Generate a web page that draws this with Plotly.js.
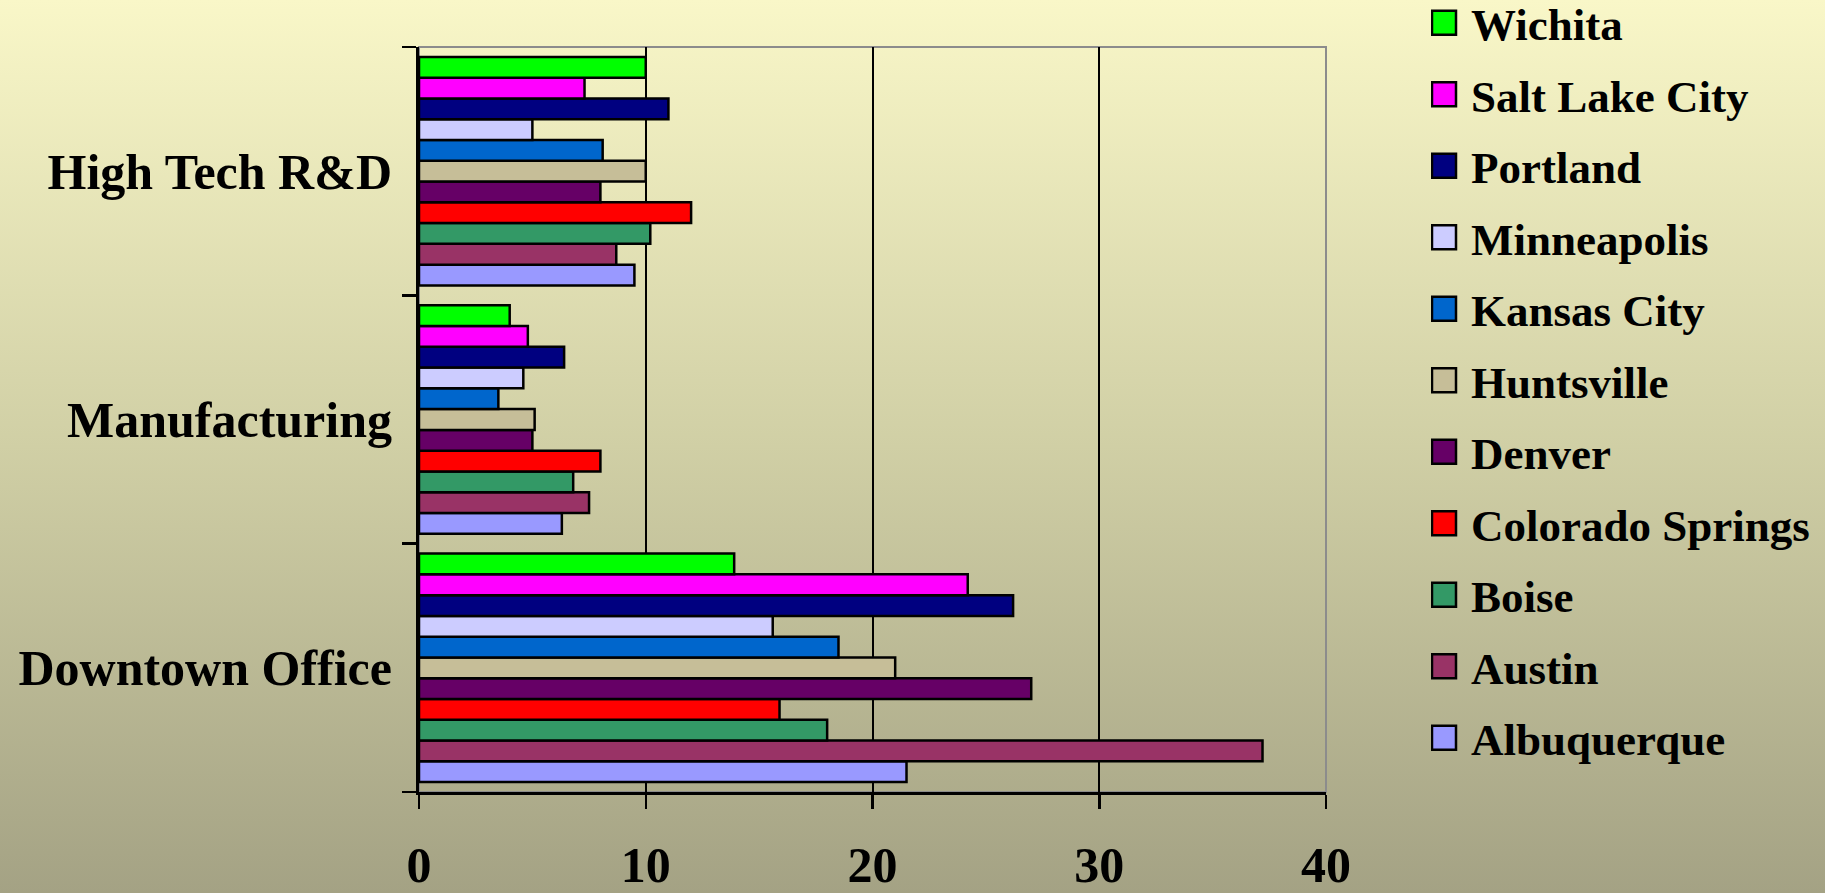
<!DOCTYPE html>
<html>
<head>
<meta charset="utf-8">
<script src="https://cdn.plot.ly/plotly-3.0.1.min.js"></script>
<style>
  html, body { margin: 0; padding: 0; }
  #chart {
    width: 1825px; height: 893px;
    background: linear-gradient(to bottom, rgb(249,247,200) 0%, rgb(208,207,165) 50%, rgb(164,162,132) 100%);
  }
</style>
</head>
<body>
<div id="chart"></div>
<script>
// Categories (bottom to top on the axis)
const categories = ["Downtown Office", "Manufacturing", "High Tech R&D"];

// Cities (first = bottom bar in each group)
const cities = ["Albuquerque", "Austin", "Boise", "Colorado Springs", "Denver",
                "Huntsville", "Kansas City", "Minneapolis", "Portland", "Salt Lake City", "Wichita"];

// Values per city: [Downtown Office, Manufacturing, High Tech R&D]
const albuquerque    = [21.5, 6.3, 9.5];
const austin         = [37.2, 7.5, 8.7];
const boise          = [18.0, 6.8, 10.2];
const coloradoSprings= [15.9, 8.0, 12.0];
const denver         = [27.0, 5.0, 8.0];
const huntsville     = [21.0, 5.1, 10.0];
const kansasCity     = [18.5, 3.5, 8.1];
const minneapolis    = [15.6, 4.6, 5.0];
const portland       = [26.2, 6.4, 11.0];
const saltLakeCity   = [24.2, 4.8, 7.3];
const wichita        = [13.9, 4.0, 10.0];

const seriesValues = [albuquerque, austin, boise, coloradoSprings, denver,
                      huntsville, kansasCity, minneapolis, portland, saltLakeCity, wichita];

const colors = ["#9999FF", "#993366", "#339966", "#FF0000", "#660066",
                "#C6BE98", "#0066CC", "#CCCCFF", "#000080", "#FF00FF", "#00FF00"];

const xTickVals = [0, 10, 20, 30, 40];

const FONT = "'Liberation Serif', 'Times New Roman', serif";

const traces = cities.map((name, i) => ({
  type: "bar",
  orientation: "h",
  name: name,
  legendgroup: "g" + i,
  legendrank: cities.length - i,
  y: categories,
  x: seriesValues[i],
  marker: { color: colors[i], line: { color: "#000000", width: 2.5 } },
  hoverinfo: "name+x"
}));

const layout = {
  width: 1825,
  height: 893,
  paper_bgcolor: "rgba(0,0,0,0)",
  plot_bgcolor: "rgba(0,0,0,0)",
  margin: { l: 419, r: 499, t: 47, b: 101, pad: 0 },
  barmode: "group",
  bargap: 0.08,
  bargroupgap: 0,
  showlegend: true,
  legend: {
    traceorder: "grouped",
    tracegroupgap: 10,
    maxheight: 893,
    xref: "container", yref: "container",
    x: 1431 / 1825, xanchor: "left",
    y: 1, yanchor: "top",
    bgcolor: "rgba(0,0,0,0)",
    borderwidth: 0,
    font: { family: FONT, size: 45, color: "#000000", weight: "bold" }
  },
  xaxis: {
    range: [0, 40],
    tickvals: xTickVals,
    ticktext: xTickVals.map(String),
    showgrid: true,
    gridcolor: "#000000",
    gridwidth: 2,
    zeroline: false,
    showline: true,
    linecolor: "#000000",
    linewidth: 3,
    ticks: "outside",
    ticklen: 14,
    tickwidth: 2.5,
    tickcolor: "#000000",
    ticklabelstandoff: 13,
    tickfont: { family: FONT, size: 50, color: "#000000", weight: "bold" },
    fixedrange: true
  },
  yaxis: {
    type: "category",
    categoryorder: "array",
    categoryarray: categories,
    tickson: "boundaries",
    ticks: "outside",
    ticklen: 14,
    tickwidth: 2.5,
    tickcolor: "#000000",
    showgrid: false,
    zeroline: false,
    showline: true,
    linecolor: "#000000",
    linewidth: 3,
    ticklabelstandoff: 14,
    tickfont: { family: FONT, size: 50, color: "#000000", weight: "bold" },
    fixedrange: true
  },
  shapes: [{
    type: "rect", xref: "paper", yref: "paper",
    x0: 0, x1: 1, y0: 0, y1: 1,
    line: { color: "#8C8C8C", width: 2 },
    layer: "below"
  }]
};

Plotly.newPlot("chart", traces, layout, { displayModeBar: false, staticPlot: true }).then(gd => {
  // enlarge legend swatches to match reference squares
  gd.querySelectorAll(".legend g.legendpoints path").forEach(p => {
    p.setAttribute("d", "M5,12H-19V-12H5Z");
    p.style.strokeWidth = "2.5px";
    p.style.stroke = "#000000";
  });
  // nudge the legend block up a little (Plotly keeps it inside the page)
  const lg = gd.querySelector("g.legend");
  if (lg) {
    const t = lg.getAttribute("transform") || "";
    const m = t.match(/translate\(\s*([-\d.]+)[ ,]+([-\d.]+)\s*\)/);
    if (m) lg.setAttribute("transform", "translate(" + m[1] + "," + (parseFloat(m[2]) - 13) + ")");
  }
});
</script>
</body>
</html>
